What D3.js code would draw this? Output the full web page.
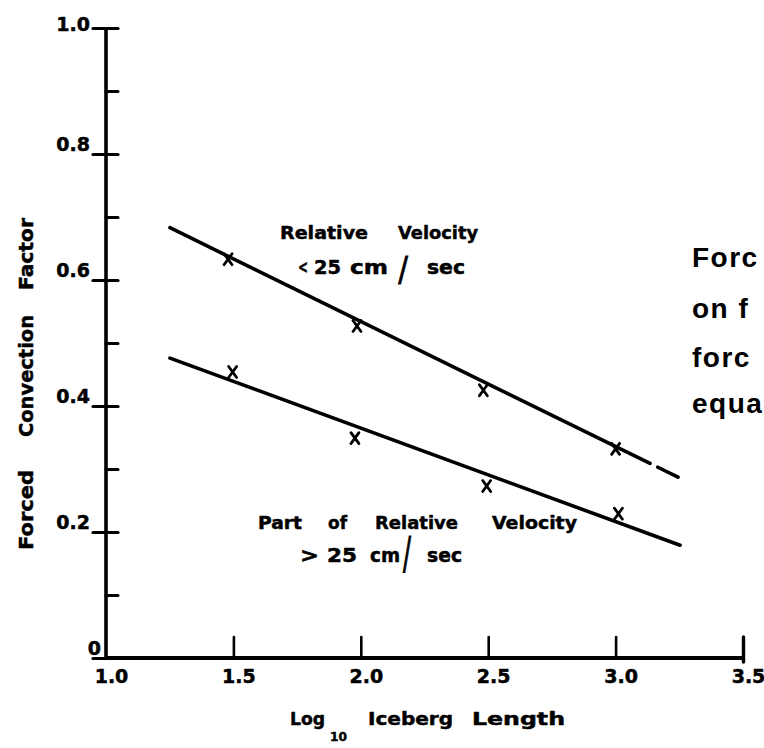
<!DOCTYPE html>
<html>
<head>
<meta charset="utf-8">
<script src="https://cdn.jsdelivr.net/npm/d3@7"></script>
<style>
  html, body { margin: 0; padding: 0; background: #fff; }
  svg { display: block; }
  text { fill: #000; }
</style>
</head>
<body>
<div id="chart"></div>
<script>
// ---- data ----
const xTicks = [1.0, 1.5, 2.0, 2.5, 3.0, 3.5];
const xTickLabels = ["1.0", "1.5", "2.0", "2.5", "3.0", "3.5"];
const yTicks = [0, 0.2, 0.4, 0.6, 0.8, 1.0];
const yTickLabels = ["0", "0.2", "0.4", "0.6", "0.8", "1.0"];
const yMinorTicks = [0.1, 0.3, 0.5, 0.7, 0.9];

// Relative velocity < 25 cm/sec
const upperX = [1.479, 1.985, 2.481, 3.0];
const upperY = [0.633, 0.527, 0.425, 0.332];
const upperFitX = [1.251, 3.245];
const upperFitY = [0.683, 0.287];
const upperGapX = [3.135, 3.155];

// Part of relative velocity > 25 cm/sec
const lowerX = [1.497, 1.977, 2.494, 3.011];
const lowerY = [0.454, 0.349, 0.273, 0.229];
const lowerFitX = [1.251, 3.253];
const lowerFitY = [0.476, 0.179];

const sideText = ["Forc", "on f", "forc", "equa"];

// ---- drawing ----
const W = 764, H = 748;
const svg = d3.select("#chart").append("svg")
  .attr("width", W).attr("height", H)
  .style("background", "#fff");

const x = d3.scaleLinear().domain([1.0, 3.5]).range([106, 743]);
const y = d3.scaleLinear().domain([0, 1.0]).range([658, 28]);

const LEROY = "'DejaVu Sans', sans-serif";
function heavy(sel, w) {
  sel.style("font-family", LEROY).style("font-weight", "bold")
    .style("stroke", "#000").style("stroke-width", (w == null ? 0.5 : w) + "px")
    .style("stroke-linejoin", "round");
}

// y axis
const yAxis = svg.append("g").attr("transform", `translate(${x(1.0)},0)`)
  .call(d3.axisLeft(y).tickValues(yTicks).tickFormat((d, i) => yTickLabels[i]).tickSizeOuter(0));
yAxis.select(".domain").attr("stroke", "#000").attr("stroke-width", 3.6)
  .attr("d", `M0,${y(1.0)}V${y(0) + 1}`);
yAxis.selectAll(".tick line").attr("x1", -13).attr("x2", 12)
  .attr("stroke", "#000").attr("stroke-width", 3.2).attr("stroke-linecap", "round");
yAxis.selectAll(".tick text")
  .attr("x", (d) => d === 0 ? -5 : -16)
  .attr("dy", (d) => d === 1.0 ? "0.15em" : "-0.2em")
  .attr("text-anchor", "end")
  .call(heavy)
  .style("font-size", "19px");

// y minor ticks
svg.append("g").attr("transform", `translate(${x(1.0)},0)`)
  .call(d3.axisRight(y).tickValues(yMinorTicks).tickFormat("").tickSize(12).tickSizeOuter(0))
  .call(g => g.select(".domain").remove())
  .call(g => g.selectAll(".tick line").attr("stroke", "#000").attr("stroke-width", 3).attr("stroke-linecap", "round"));

// x axis
const xAxis = svg.append("g").attr("transform", `translate(0,${y(0)})`)
  .call(d3.axisBottom(x).tickValues(xTicks).tickFormat((d, i) => xTickLabels[i]).tickSizeOuter(0));
xAxis.select(".domain").attr("stroke", "#000").attr("stroke-width", 3.8)
  .attr("d", `M${x(1.0) - 1},0H${x(3.5)}`);
xAxis.selectAll(".tick line")
  .attr("y1", (d) => d === 3.5 ? 4 : 0).attr("y2", -21)
  .attr("stroke", "#000").attr("stroke-width", (d) => d === 3.5 ? 3.4 : 2.6)
  .attr("stroke-linecap", "round")
  .style("display", (d) => d === 1.0 ? "none" : null);
xAxis.selectAll(".tick text")
  .attr("y", 12).attr("dy", "0.71em").attr("dx", 5)
  .call(heavy)
  .style("font-size", "19px");

// fitted lines
const line = d3.line().x(d => x(d[0])).y(d => y(d[1]));
const upperPts = upperFitX.map((v, i) => [v, upperFitY[i]]);
const lowerPts = lowerFitX.map((v, i) => [v, lowerFitY[i]]);

const upPath = svg.append("path").attr("d", line(upperPts))
  .attr("fill", "none").attr("stroke", "#000").attr("stroke-width", 3.6).attr("stroke-linecap", "round");
{
  const L = upPath.node().getTotalLength();
  const span = upperFitX[1] - upperFitX[0];
  const a = (upperGapX[0] - upperFitX[0]) / span * L;
  const g = (upperGapX[1] - upperGapX[0]) / span * L;
  upPath.attr("stroke-dasharray", `${a} ${g + 3} ${L}`);
}
svg.append("path").attr("d", line(lowerPts))
  .attr("fill", "none").attr("stroke", "#000").attr("stroke-width", 3.6).attr("stroke-linecap", "round");

// x markers
function drawMarks(xs, ys) {
  svg.append("g").selectAll("path").data(xs.map((v, i) => [v, ys[i]])).join("path")
    .attr("d", d => {
      const cx = x(d[0]), cy = y(d[1]);
      return `M${cx - 4},${cy - 5.5}L${cx + 4},${cy + 5.5}M${cx + 4},${cy - 5.5}L${cx - 4},${cy + 5.5}`;
    })
    .attr("fill", "none").attr("stroke", "#000").attr("stroke-width", 2.8).attr("stroke-linecap", "round");
}
drawMarks(upperX, upperY);
drawMarks(lowerX, lowerY);

// helper for hand-lettered words
function word(t, px, py, w, size) {
  const el = svg.append("text").text(t)
    .attr("x", px).attr("y", py)
    .call(heavy)
    .style("font-size", size + "px");
  if (w) el.attr("textLength", w).attr("lengthAdjust", "spacingAndGlyphs");
  return el;
}

// upper annotation
word("Relative", 280, 239, 88, 18);
word("Velocity", 398, 239, 80, 18);
word("<", 298, 273, 10, 17);
word("25", 314, 274, 27, 19);
word("cm", 350, 274, 38, 19);
word("sec", 427, 274, 38, 19);
svg.append("text").text("/")
  .attr("transform", "translate(403,281) scale(0.85,1)")
  .attr("text-anchor", "middle")
  .attr("stroke", "#000").attr("stroke-width", 0.8)
  .style("font-family", LEROY).style("font-size", "34px");

// lower annotation
word("Part", 258, 529, 44, 18);
word("of", 328, 529, 19, 18);
word("Relative", 375, 529, 83, 18);
word("Velocity", 492, 529, 85, 18);
word(">", 300, 562, 19, 19);
word("25", 327, 562, 30, 19);
word("cm", 370, 562, 30, 19);
word("sec", 427, 562, 35, 19);
svg.append("text").text("/")
  .attr("transform", "translate(407,569) scale(0.7,1.3)")
  .attr("text-anchor", "middle")
  .attr("stroke", "#000").attr("stroke-width", 0.8)
  .style("font-family", LEROY).style("font-size", "34px");

// x axis title
word("Log", 290, 725, 35, 18);
word("10", 330, 741, 17, 13);
word("Iceberg", 368, 725, 85, 18);
word("Length", 472, 725, 93, 18);

// y axis title (rotated)
[["Forced", 510, 80], ["Convection", 376, 122], ["Factor", 254, 72]].forEach(([t, cy, w]) => {
  svg.append("text").text(t)
    .attr("transform", `translate(33,${cy}) rotate(-90)`)
    .attr("x", -w / 2).attr("y", 0)
    .attr("textLength", w).attr("lengthAdjust", "spacingAndGlyphs")
    .call(heavy)
    .style("font-size", "20px");
});

// text at right edge
const sideBase = [267, 318, 367, 413];
svg.append("g").selectAll("text").data(sideText).join("text")
  .text(d => d)
  .attr("x", 692).attr("y", (d, i) => sideBase[i])
  .style("font-family", "'Liberation Sans', Arial, sans-serif")
  .style("font-weight", "bold").style("font-size", "28px")
  .style("letter-spacing", "1.5px");
</script>
</body>
</html>
